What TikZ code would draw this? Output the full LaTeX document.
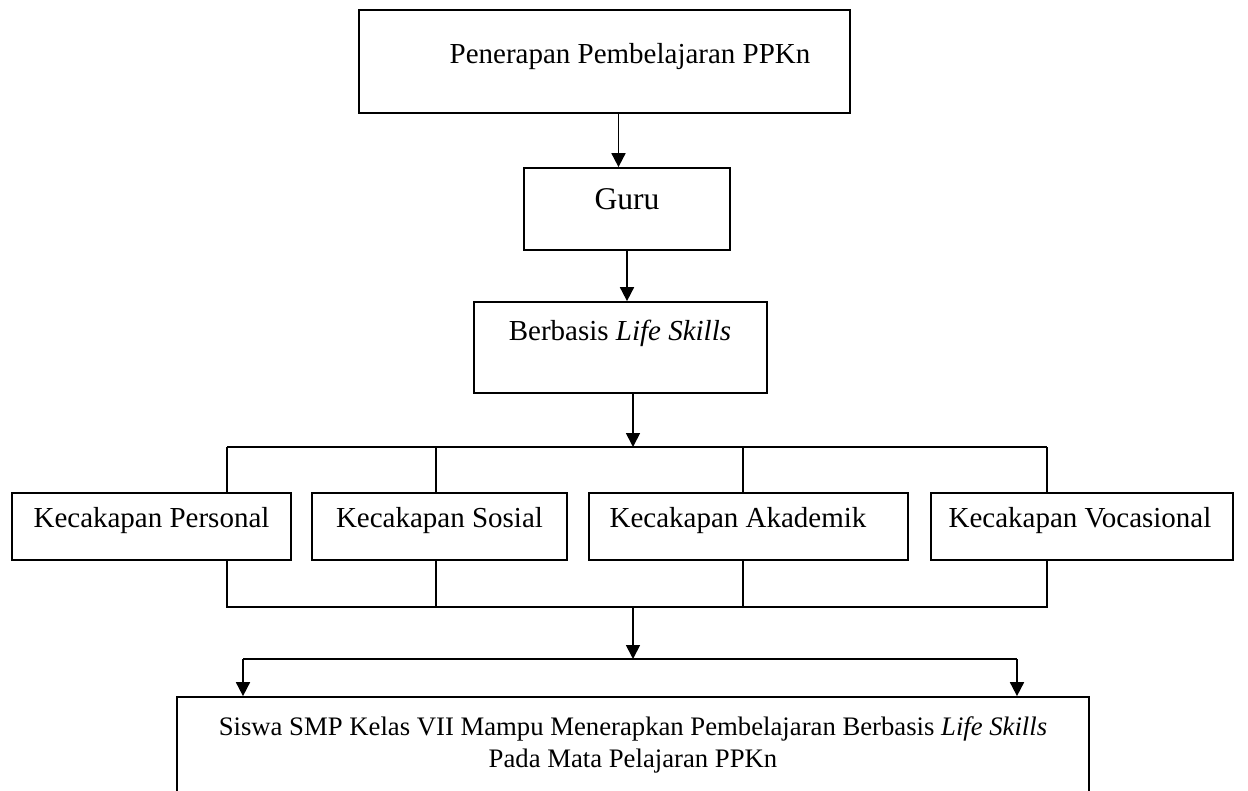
\documentclass[tikz,border=0pt]{standalone}
\usepackage{fontspec}
\setmainfont{Liberation Serif}
\usetikzlibrary{arrows.meta}

\tikzset{
  kotak/.style={draw, line width=1pt, rectangle, inner sep=0pt},
  teks/.style={anchor=base, inner sep=0pt, font=\fontsize{16.5}{20}\selectfont},
  panah/.style={line width=1pt, -{Triangle[length=0.28cm, width=0.28cm]}},
  garis/.style={line width=1pt}
}

\begin{document}
\begin{tikzpicture}[x=0.02cm, y=-0.02cm]
        \clip (0,0) rectangle (1248,791);

        % kotak-kotak
        \node[kotak, minimum width=9.82cm, minimum height=2.06cm] (judul) at (604.5,61.5) {};
        \node[kotak, minimum width=4.12cm, minimum height=1.64cm] (guru) at (627,209) {};
        \node[kotak, minimum width=5.86cm, minimum height=1.82cm] (basis) at (620.5,347.5) {};
        \node[kotak, minimum width=5.58cm, minimum height=1.34cm] (personal) at (151.5,526.5) {};
        \node[kotak, minimum width=5.10cm, minimum height=1.34cm] (sosial) at (439.5,526.5) {};
        \node[kotak, minimum width=6.38cm, minimum height=1.34cm] (akademik) at (748.5,526.5) {};
        \node[kotak, minimum width=6.04cm, minimum height=1.34cm] (vokasi) at (1082,526.5) {};
        \node[kotak, minimum width=18.24cm, minimum height=2.8cm] (hasil) at (633,767) {};

        % tulisan
        \node[teks] (tjudul) at (630,63) {Penerapan Pembelajaran PPKn};
        \node[teks, font=\fontsize{18}{22}\selectfont] (tguru) at (627,209) {Guru};
        \node[teks] (tbasis) at (620,340) {Berbasis \textit{Life Skills}};
        \node[teks] (tpersonal) at (151.5,527) {Kecakapan Personal};
        \node[teks] (tsosial) at (439.5,527) {Kecakapan Sosial};
        \node[teks] (takademik) at (738,527) {Kecakapan Akademik};
        \node[teks] (tvokasi) at (1080,527) {Kecakapan Vocasional};
        \node[teks, font=\fontsize{15.2}{18.2}\selectfont, align=center] (thasil) at (633,767)
            {Siswa SMP Kelas VII Mampu Menerapkan Pembelajaran Berbasis \textit{Life Skills}\\Pada Mata Pelajaran PPKn};

        % titik cabang
        \coordinate (cab) at (633,447);
        \coordinate (cab1) at (227,447);
        \coordinate (cab2) at (436,447);
        \coordinate (cab3) at (743,447);
        \coordinate (cab4) at (1047,447);
        \coordinate (gab1) at (227,607);
        \coordinate (gab2) at (436,607);
        \coordinate (gab3) at (743,607);
        \coordinate (gab4) at (1047,607);
        \coordinate (pusat) at (633,607);
        \coordinate (bagi) at (633,659);
        \coordinate (kiri) at (243,659);
        \coordinate (kanan) at (1017,659);

        % panah
        \draw[panah] ([xshift=0.28cm]judul.south) -- ([xshift=0.28cm]judul.south |- guru.north);
        \draw[panah] (guru.south) -- (guru.south |- basis.north);
        \draw[panah] ([xshift=0.25cm]basis.south) -- (cab);

        \draw[garis] (cab1) -- (cab4);
        \draw[garis] (cab1) -- (cab1 |- personal.north);
        \draw[garis] (cab2) -- (cab2 |- sosial.north);
        \draw[garis] (cab3) -- (cab3 |- akademik.north);
        \draw[garis] (cab4) -- (cab4 |- vokasi.north);

        \draw[garis] (gab1 |- personal.south) -- (gab1) -- (gab4) -- (gab4 |- vokasi.south);
        \draw[garis] (gab2 |- sosial.south) -- (gab2);
        \draw[garis] (gab3 |- akademik.south) -- (gab3);

        \draw[panah] (pusat) -- (bagi);
        \draw[garis] (kiri) -- (kanan);
        \draw[panah] (kiri) -- (kiri |- hasil.north);
        \draw[panah] (kanan) -- (kanan |- hasil.north);
    \end{tikzpicture}
\end{document}
